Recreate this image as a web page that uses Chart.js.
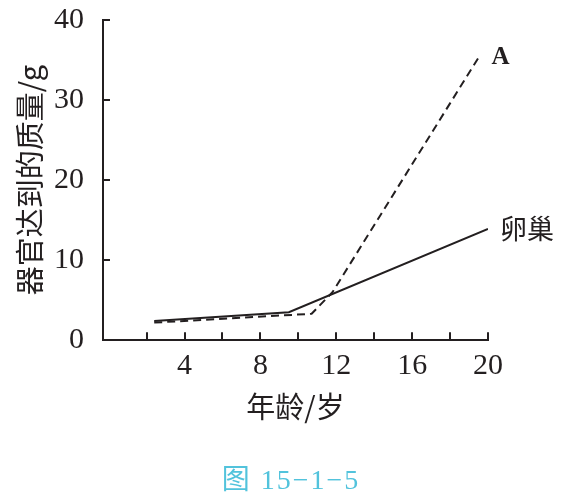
<!DOCTYPE html>
<html lang="zh">
<head>
<meta charset="UTF-8">
<title>图 15-1-5</title>
<script src="https://cdn.jsdelivr.net/npm/chart.js"></script>
<style>
    body { margin: 0; background: #fff; }
    #wrap { width: 569px; height: 496px; }
</style>
</head>
<body>
<div id="wrap"><canvas id="chart" width="569" height="496"></canvas></div>
<script>
    // values
    const seriesNames = ['卵巢', 'A'];
    const ovaryAge = [2.4, 9.5, 20];
    const ovaryMass = [2.4, 3.5, 13.9];
    const aAge = [2.4, 10.7, 11.8, 19.5];
    const aMass = [2.2, 3.3, 6.0, 35.3];
    const xTicks = [2, 4, 6, 8, 10, 12, 14, 16, 18, 20];
    const yTicks = [0, 10, 20, 30, 40];
    const caption = '图 15−1−5';

    const ink = '#231f20';
    const serif = '"Liberation Serif", "Noto Sans CJK SC", serif';
    const cjk = '"Noto Sans CJK SC", "Liberation Serif", sans-serif';

    function pts(xs, ys) {
        return xs.map((x, i) => ({x: x, y: ys[i]}));
    }

    // small tick marks pointing into the plot, end labels of each line, figure caption
    const decorations = {
        id: 'decorations',
        afterDatasetsDraw(chart) {
            const ctx = chart.ctx;
            const xs = chart.scales.x, ys = chart.scales.y;
            const area = chart.chartArea;
            ctx.save();
            ctx.strokeStyle = ink;
            ctx.lineWidth = 2;
            ctx.beginPath();
            xTicks.forEach(v => {
                const px = Math.round(xs.getPixelForValue(v));
                ctx.moveTo(px, area.bottom);
                ctx.lineTo(px, area.bottom - 8);
            });
            yTicks.slice(1).forEach(v => {
                const py = Math.round(ys.getPixelForValue(v));
                ctx.moveTo(area.left, py);
                ctx.lineTo(area.left + 7, py);
            });
            ctx.stroke();

            ctx.fillStyle = ink;
            ctx.textBaseline = 'middle';
            ctx.textAlign = 'left';
            chart.data.datasets.forEach(ds => {
                const last = ds.data[ds.data.length - 1];
                const px = xs.getPixelForValue(last.x);
                const py = ys.getPixelForValue(last.y);
                ctx.font = ds.endFont;
                ctx.fillText(ds.label, px + ds.endGap, py);
            });

            ctx.fillStyle = '#52c3dc';
            ctx.textAlign = 'center';
            ctx.font = '28px ' + serif;
            ctx.letterSpacing = '2px';
            ctx.fillText(caption, 291, 482);
            ctx.restore();
        }
    };

    new Chart(document.getElementById('chart'), {
        type: 'scatter',
        data: {
            datasets: [{
                label: seriesNames[0],
                data: pts(ovaryAge, ovaryMass),
                showLine: true,
                borderColor: ink,
                borderWidth: 2,
                pointRadius: 0,
                tension: 0,
                endFont: '27px ' + cjk,
                endGap: 12
            }, {
                label: seriesNames[1],
                data: pts(aAge, aMass),
                showLine: true,
                borderColor: ink,
                borderWidth: 2,
                borderDash: [8, 5],
                pointRadius: 0,
                tension: 0,
                endFont: 'bold 25px ' + serif,
                endGap: 13
            }]
        },
        options: {
            responsive: false,
            animation: false,
            layout: { padding: { left: 0, right: 81, top: 20, bottom: 34 } },
            plugins: {
                legend: { display: false },
                tooltip: { enabled: false }
            },
            scales: {
                x: {
                    type: 'linear',
                    min: -0.3,
                    max: 20,
                    afterBuildTicks: s => { s.ticks = xTicks.map(v => ({value: v})); },
                    afterFit: s => { s.paddingLeft = 0; s.paddingRight = 0; },
                    grid: { display: false },
                    border: { display: true, color: ink, width: 2 },
                    ticks: {
                        autoSkip: false,
                        maxRotation: 0,
                        padding: 0,
                        color: ink,
                        font: { family: serif, size: 30 },
                        callback: v => (v % 4 === 0 ? v : '')
                    },
                    title: {
                        display: true,
                        text: '年龄/岁',
                        color: ink,
                        font: { family: cjk, size: 29 },
                        padding: { top: 5, bottom: 38 }
                    }
                },
                y: {
                    min: 0,
                    max: 40,
                    afterBuildTicks: s => { s.ticks = yTicks.map(v => ({value: v})); },
                    afterFit: s => { s.width = 103; s.paddingTop = 0; s.paddingBottom = 0; },
                    grid: { display: false },
                    border: { display: true, color: ink, width: 2 },
                    ticks: {
                        padding: 11,
                        color: ink,
                        font: { family: serif, size: 30 }
                    },
                    title: {
                        display: true,
                        text: '器官达到的质量/g',
                        color: ink,
                        font: { family: cjk, size: 29 },
                        padding: { top: 13, bottom: 0 }
                    }
                }
            }
        },
        plugins: [decorations]
    });
</script>
</body>
</html>
